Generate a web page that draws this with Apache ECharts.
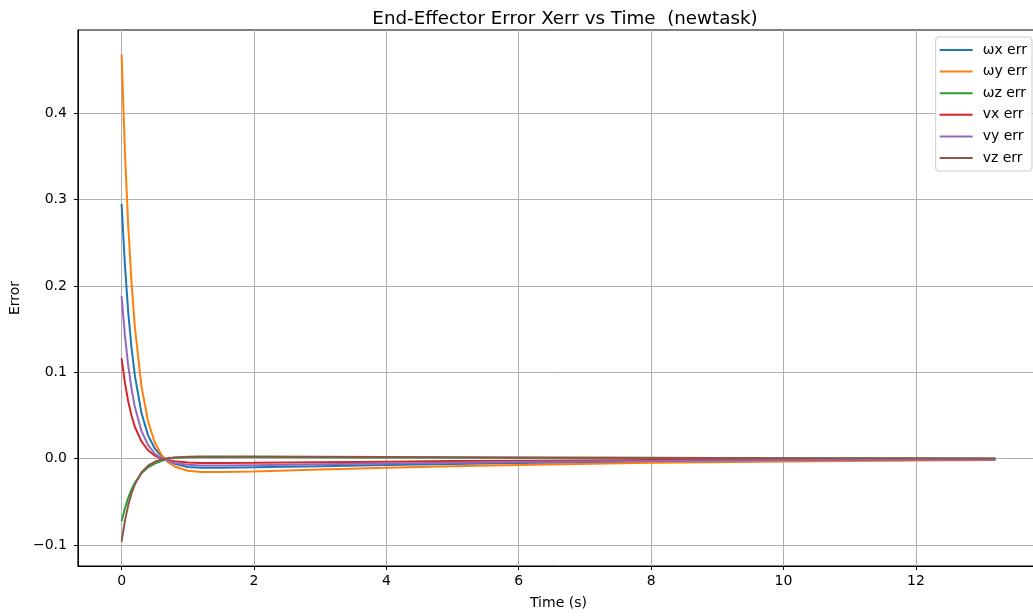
<!DOCTYPE html>
<html>
<head>
<meta charset="utf-8">
<script src="https://cdn.jsdelivr.net/npm/echarts@6/dist/echarts.min.js"></script>
<style>
html,body{margin:0;padding:0;background:#fff;overflow:hidden;}
#chart{width:1040px;height:616px;}
</style>
</head>
<body>
<div id="chart"></div>
<script>
const times = [0, 0.05, 0.1, 0.15, 0.2, 0.3, 0.4, 0.5, 0.6, 0.7, 0.8, 1.0, 1.2, 1.5, 2, 3, 4, 5, 6, 8, 10, 12, 13.2];
const seriesNames = ['ωx err', 'ωy err', 'ωz err', 'vx err', 'vy err', 'vz err'];
const wxErr = [0.295, 0.2245, 0.170, 0.1285, 0.0965, 0.053, 0.027, 0.012, 0.003, -0.002, -0.006, -0.0095, -0.0105, -0.0105, -0.010, -0.0087, -0.0074, -0.0062, -0.0051, -0.0034, -0.0023, -0.0015, -0.0011];
const wyErr = [0.468, 0.356, 0.270, 0.204, 0.153, 0.084, 0.043, 0.019, 0.0046, -0.004, -0.009, -0.014, -0.0155, -0.0155, -0.0148, -0.0125, -0.0105, -0.0088, -0.0072, -0.0048, -0.0032, -0.0021, -0.0016];
const wzErr = [-0.0725, -0.0574, -0.0453, -0.0357, -0.028, -0.017, -0.010, -0.0057, -0.0028, 0.0002, 0.001, 0.0018, 0.002, 0.0021, 0.002, 0.0018, 0.0015, 0.0013, 0.0011, 0.0008, 0.0005, 0.0003, 0.0002];
const vxErr = [0.116, 0.088, 0.0665, 0.050, 0.037, 0.020, 0.0098, 0.0037, 0.0002, -0.0015, -0.003, -0.0045, -0.005, -0.005, -0.0047, -0.004, -0.0034, -0.0028, -0.0023, -0.0016, -0.001, -0.0007, -0.0005];
const vyErr = [0.188, 0.143, 0.108, 0.081, 0.060, 0.032, 0.016, 0.006, 0.0003, -0.002, -0.005, -0.007, -0.008, -0.008, -0.0075, -0.0065, -0.0055, -0.0046, -0.0038, -0.0026, -0.0017, -0.0011, -0.0008];
const vzErr = [-0.096, -0.072, -0.054, -0.040, -0.030, -0.016, -0.008, -0.0036, -0.001, 0.0005, 0.0015, 0.0022, 0.0025, 0.0025, 0.0025, 0.0023, 0.002, 0.0017, 0.0014, 0.001, 0.0006, 0.0004, 0.0003];
const xTicks = [0, 2, 4, 6, 8, 10, 12];
const yTicks = [-0.1, 0.0, 0.1, 0.2, 0.3, 0.4];
const colors = ['#1f77b4', '#ff7f0e', '#2ca02c', '#d62728', '#9467bd', '#8c564b'];

const allValues = [wxErr, wyErr, wzErr, vxErr, vyErr, vzErr];
const font = 'DejaVu Sans';

const chart = echarts.init(document.getElementById('chart'));
chart.setOption({
  backgroundColor: '#fff',
  animation: false,
  color: colors,
  title: {
    text: 'End-Effector Error Xerr vs Time  (newtask)',
    left: 560, textAlign: 'center', top: 5,
    textStyle: { fontFamily: font, fontSize: 18.3, fontWeight: 'normal', color: '#000' }
  },
  legend: {
    orient: 'vertical',
    right: 8, top: 37,
    data: seriesNames,
    icon: 'rect',
    itemWidth: 33, itemHeight: 2,
    itemGap: 7.6,
    padding: [6, 5, 6, 4],
    backgroundColor: 'rgba(255,255,255,0.85)',
    borderColor: '#cccccc', borderWidth: 1, borderRadius: 3,
    textStyle: { fontFamily: font, fontSize: 14, color: '#000', padding: [0, 0, 0, 5] }
  },
  grid: {
    left: 77, right: 1, top: 30, bottom: 50,
    show: true, borderColor: '#000', borderWidth: 1
  },
  xAxis: {
    type: 'value',
    min: -0.66, max: 13.86,
    name: 'Time (s)', nameLocation: 'middle', nameGap: 30,
    nameTextStyle: { fontFamily: font, fontSize: 14, color: '#000' },
    axisLine: { show: true, onZero: false, lineStyle: { color: '#000', width: 1 } },
    axisTick: { show: true, length: 4, lineStyle: { color: '#000' }, customValues: xTicks },
    axisLabel: { fontFamily: font, fontSize: 14, color: '#000', margin: 8, customValues: xTicks,
      formatter: v => String(Math.round(v)) },
    splitLine: { show: true, lineStyle: { color: '#b0b0b0', width: 1 } }
  },
  yAxis: {
    type: 'value',
    min: -0.1242, max: 0.4962,
    name: 'Error', nameLocation: 'middle', nameGap: 54, nameRotate: 90,
    nameTextStyle: { fontFamily: font, fontSize: 14, color: '#000' },
    axisLine: { show: true, onZero: false, lineStyle: { color: '#000', width: 1 } },
    axisTick: { show: true, length: 4, lineStyle: { color: '#000' }, customValues: yTicks },
    axisLabel: { fontFamily: font, fontSize: 14, color: '#000', margin: 11, customValues: yTicks,
      formatter: v => {
        const r = Math.round(v * 10) / 10;
        return r < 0 ? '\u2212' + Math.abs(r).toFixed(1) : Math.abs(r).toFixed(1);
      } },
    splitLine: { show: true, lineStyle: { color: '#b0b0b0', width: 1 } }
  },
  series: seriesNames.map((name, i) => ({
    name: name,
    type: 'line',
    data: times.map((t, k) => [t, allValues[i][k]]),
    showSymbol: false,
    symbol: 'none',
    smooth: false,
    lineStyle: { width: 2, color: colors[i] },
    itemStyle: { color: colors[i] },
    z: 2 + i
  }))
});
</script>
</body>
</html>
